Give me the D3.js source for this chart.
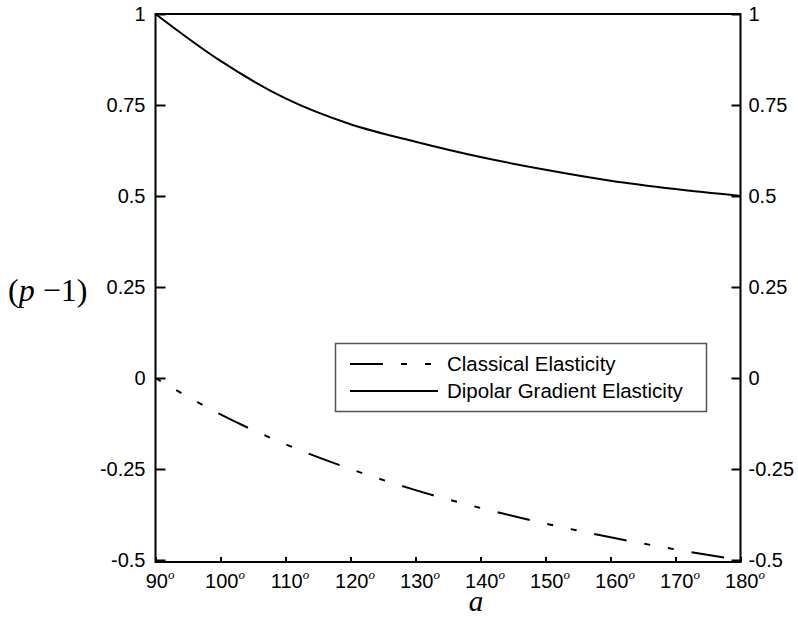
<!DOCTYPE html>
<html>
<head>
  <meta charset="utf-8">
  <title>(p-1) vs a</title>
  <style>
    body { margin: 0; background: #fff; }
  </style>
  <script src="https://d3js.org/d3.v7.min.js"></script>
</head>
<body>
  <div id="chart"></div>
  <script>
    // values
    const angles = [90, 100, 110, 120, 130, 140, 150, 160, 170, 180];
    const classical = [0, -0.1, -0.182, -0.25, -0.308, -0.357, -0.4, -0.4375, -0.471, -0.5];
    const dipolar = [1, 0.871, 0.768, 0.697, 0.649, 0.607, 0.572, 0.542, 0.519, 0.5];
    const yTicks = [1, 0.75, 0.5, 0.25, 0, -0.25, -0.5];
    const yTickLabels = ['1', '0.75', '0.5', '0.25', '0', '-0.25', '-0.5'];
    const seriesNames = ['Classical Elasticity', 'Dipolar Gradient Elasticity'];

    const W = 798, H = 618;
    const plot = { left: 155.5, right: 740.5, top: 14, bottom: 562 };
    const sans = '"Liberation Sans", Arial, sans-serif';
    const serif = '"Liberation Serif", "Times New Roman", serif';

    const x = d3.scaleLinear().domain([90, 180]).range([plot.left, plot.right]);
    const y = d3.scaleLinear().domain([-0.5055, 1]).range([plot.bottom, plot.top]);

    const svg = d3.select('#chart').append('svg')
      .attr('width', W)
      .attr('height', H);

    // left axis, ticks pointing inward
    const gl = svg.append('g')
      .attr('transform', `translate(${plot.left},0)`)
      .call(d3.axisLeft(y).tickValues(yTicks).tickSize(-10).tickSizeOuter(0)
        .tickPadding(10).tickFormat((d, i) => yTickLabels[i]));

    const gr = svg.append('g')
      .attr('transform', `translate(${plot.right},0)`)
      .call(d3.axisRight(y).tickValues(yTicks).tickSize(-9).tickSizeOuter(0)
        .tickPadding(8).tickFormat((d, i) => yTickLabels[i]));

    const gb = svg.append('g')
      .attr('transform', `translate(0,${plot.bottom})`)
      .call(d3.axisBottom(x).tickValues(angles).tickSize(-5).tickSizeOuter(0)
        .tickPadding(12).tickFormat(''));

    [gl, gr, gb].forEach(g => {
      g.attr('font-family', sans).attr('font-size', 20);
      g.select('.domain').remove();
      g.selectAll('.tick line').attr('stroke', '#000').attr('stroke-width', 2);
      g.selectAll('.tick text').attr('fill', '#000');
    });

    // x tick labels with superscript degree "o"
    gb.selectAll('.tick text').each(function(d) {
      const t = d3.select(this).attr('x', 4);
      t.append('tspan').text(d);
      t.append('tspan')
        .attr('dy', -9)
        .attr('font-size', 13)
        .attr('font-style', 'italic')
        .attr('font-family', serif)
        .text('o');
    });

    // frame
    svg.append('rect')
      .attr('x', plot.left).attr('y', plot.top)
      .attr('width', plot.right - plot.left)
      .attr('height', plot.bottom - plot.top)
      .attr('fill', 'none').attr('stroke', '#000').attr('stroke-width', 2);

    const line = (vals) => d3.line()
      .x((d, i) => x(angles[i]))
      .y(d => y(d))
      .curve(d3.curveMonotoneX)(vals);

    const dash = '33,18,6,18,6,18';

    svg.append('path')
      .attr('d', line(dipolar))
      .attr('fill', 'none').attr('stroke', '#000').attr('stroke-width', 2);

    svg.append('path')
      .attr('d', line(classical))
      .attr('fill', 'none').attr('stroke', '#000').attr('stroke-width', 2)
      .attr('stroke-dasharray', dash)
      .attr('stroke-dashoffset', 27);

    // legend
    const lg = svg.append('g').attr('font-family', sans);
    lg.append('rect')
      .attr('x', 335.5).attr('y', 343.5).attr('width', 371).attr('height', 68)
      .attr('fill', '#fff').attr('stroke', '#555').attr('stroke-width', 1.5);
    seriesNames.forEach((name, i) => {
      const ly = 364 + i * 27;
      lg.append('line')
        .attr('x1', 350).attr('x2', 438).attr('y1', ly).attr('y2', ly)
        .attr('stroke', '#000').attr('stroke-width', 2)
        .attr('stroke-dasharray', i === 0 ? dash : null);
      lg.append('text')
        .attr('x', 447).attr('y', ly).attr('dy', '0.35em')
        .attr('font-size', 20.5)
        .text(name);
    });

    // axis titles
    svg.append('text')
      .attr('x', 476).attr('y', 611)
      .attr('text-anchor', 'middle')
      .attr('font-family', serif)
      .attr('font-style', 'italic')
      .attr('font-size', 29)
      .text('a');

    const yt = svg.append('text')
      .attr('x', 8).attr('y', 301)
      .attr('font-family', serif)
      .attr('font-size', 32);
    yt.append('tspan').text('(');
    yt.append('tspan').attr('font-style', 'italic').text('p');
    yt.append('tspan').text(' \u22121)');
  </script>
</body>
</html>
